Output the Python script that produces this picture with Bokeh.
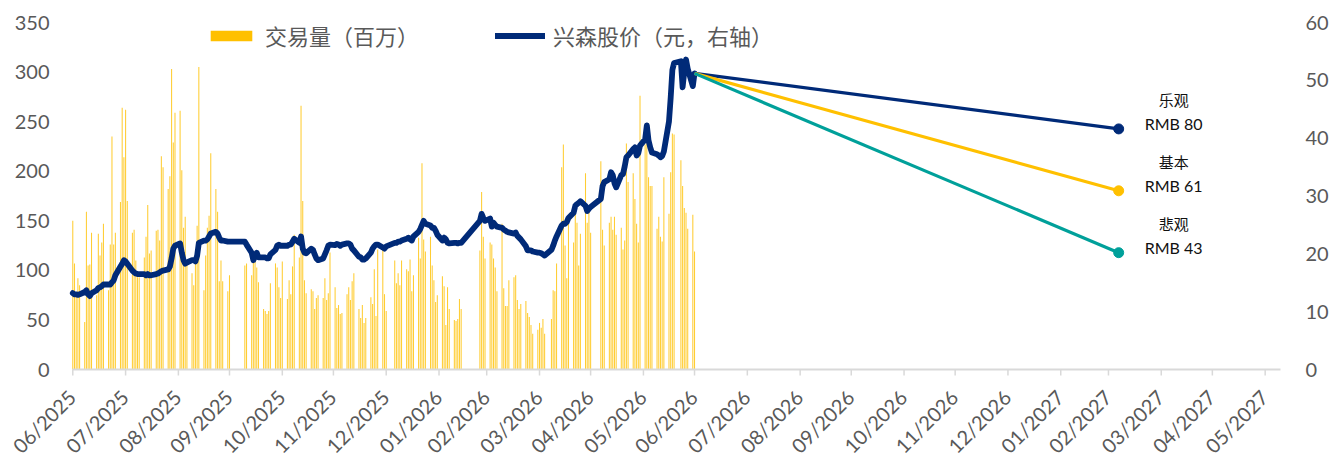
import math
import pandas as pd
from bokeh.plotting import figure
from bokeh.models import ColumnDataSource, Range1d, Legend, LegendItem
from bokeh.core.properties import value
from bokeh.embed import file_html
from bokeh.resources import INLINE

# ---- trading calendar: 2025-06-30 .. 2026-06-30, exchange holidays removed ----
first_day = "2025-06-30"
last_day = "2026-06-30"
market_holidays = [
    "2025-10-01", "2025-10-02", "2025-10-03", "2025-10-06", "2025-10-07", "2025-10-08",
    "2026-01-01", "2026-01-02",
    "2026-02-16", "2026-02-17", "2026-02-18", "2026-02-19", "2026-02-20", "2026-02-23",
    "2026-04-06",
    "2026-05-01", "2026-05-04", "2026-05-05",
    "2026-06-19",
]

# ---- daily turnover, million shares (left axis) ----
vol_2025_06 = [150]
vol_2025_07 = [107, 77, 92, 85, 48, 159, 105, 106, 138, 75, 137, 115, 128, 147, 80,
               126, 235, 126, 138, 169, 264, 214, 262]
vol_2025_08 = [170, 138, 141, 110, 93, 93, 113, 134, 166, 117, 120, 140, 141, 130, 215,
               204, 182, 195, 303, 229, 259]
vol_2025_09 = [261, 201, 143, 154, 107, 97, 85, 113, 145, 305, 80, 115, 143, 155, 218,
               182, 159, 89, 110, 89, 79, 95]
vol_2025_10 = [105, 107, 95, 110, 110, 103, 88, 61, 59, 56, 59, 87, 107, 103, 83, 72, 109]
vol_2025_11 = [71, 90, 76, 104, 136, 113, 266, 170, 90, 77, 81, 79, 61, 72, 75, 72, 92,
               70, 77, 118]
vol_2025_12 = [83, 62, 65, 56, 57, 76, 83, 70, 89, 97, 61, 52, 65, 47, 52, 73, 66, 101,
               54, 121, 123, 76, 59]
vol_2026_01 = [110, 87, 97, 85, 110, 101, 99, 111, 79, 95, 133, 112, 208, 131, 119, 134,
               105, 90, 68, 75]
vol_2026_02 = [94, 84, 45, 83, 61, 50, 49, 51, 71, 61, 120, 179, 134, 112]
vol_2026_03 = [128, 126, 112, 103, 79, 147, 82, 64, 64, 90, 93, 95, 70, 61, 66, 69, 57,
               53, 45, 36, 40, 47]
vol_2026_04 = [42, 51, 36, 51, 80, 79, 107, 204, 227, 125, 92, 155, 128, 158, 148, 105,
               137, 198, 148, 160, 138]
vol_2026_05 = [210, 141, 125, 148, 154, 141, 154, 136, 143, 121, 130, 228, 189, 198, 172,
               147, 128, 276]
vol_2026_06 = [227, 240, 194, 185, 185, 142, 154, 134, 129, 194, 157, 199, 238, 237, 211,
               185, 163, 158, 142, 156, 119]

# ---- closing price, CNY (right axis) ----
px_2025_06 = [13.2]
px_2025_07 = [13.0, 13.0, 12.9, 13.0, 13.4, 13.7, 13.0, 12.7, 13.2, 13.7, 14.1, 14.2,
              14.4, 14.7, 14.7, 14.7, 15.1, 15.4, 16.3, 17.8, 18.3, 18.9, 18.7]
px_2025_08 = [18.3, 17.1, 16.8, 16.6, 16.5, 16.5, 16.5, 16.3, 16.5, 16.3, 16.3, 16.5,
              16.6, 16.8, 17.0, 17.1, 17.3, 17.8, 19.2, 20.9, 21.4]
px_2025_09 = [21.8, 20.2, 18.9, 18.3, 18.5, 18.9, 18.9, 18.7, 19.7, 21.9, 22.3, 22.3,
              22.5, 23.0, 23.5, 23.8, 23.5, 22.8, 22.3, 22.3, 22.1, 22.1]
px_2025_10 = [22.1, 21.6, 20.2, 18.9, 19.7, 20.2, 19.4, 19.4, 19.4, 19.2, 19.2, 19.9,
              20.7, 21.4, 21.6, 21.4, 21.4]
px_2025_11 = [21.4, 21.6, 21.6, 22.1, 22.6, 21.9, 23.0, 20.9, 20.2, 20.1, 20.9, 20.7,
              19.9, 19.2, 18.9, 19.2, 19.9, 20.6, 21.4, 21.6]
px_2025_12 = [21.5, 21.7, 21.6, 21.4, 21.6, 21.8, 21.8, 21.6, 20.9, 20.6, 19.5, 19.4,
              19.0, 19.0, 19.2, 20.2, 20.9, 21.3, 21.6, 21.6, 21.1, 20.9, 21.3]
px_2026_01 = [21.9, 21.9, 22.1, 22.1, 22.3, 22.6, 22.8, 22.5, 22.3, 23.0, 23.8, 24.3,
              25.0, 25.7, 25.2, 24.9, 24.5, 24.5, 24.0, 23.3]
px_2026_02 = [22.3, 22.8, 22.5, 21.9, 21.8, 21.9, 21.9, 21.8, 21.9, 21.9, 25.7, 26.9,
              26.2, 25.7]
px_2026_03 = [26.1, 24.7, 25.4, 25.0, 24.7, 24.5, 24.2, 24.0, 23.8, 23.7, 23.5, 23.7,
              23.1, 22.8, 22.5, 21.3, 20.6, 20.6, 20.6, 20.4, 20.2, 20.2]
px_2026_04 = [20.1, 19.9, 19.7, 20.7, 21.4, 22.3, 23.0, 24.9, 25.2, 25.2, 25.5, 26.2,
              27.1, 28.3, 28.6, 28.8, 29.1, 28.3, 27.4, 27.8, 28.1]
px_2026_05 = [29.5, 31.7, 32.4, 32.9, 34.1, 33.6, 32.2, 31.5, 33.6, 33.8, 35.1, 36.7,
              37.0, 38.1, 38.4, 37.0, 37.4, 38.7]
px_2026_06 = [39.8, 42.2, 39.6, 38.4, 37.5, 37.2, 37.0, 36.7, 36.9, 37.7, 42.9, 47.0,
              51.8, 53.0, 53.3, 48.8, 51.5, 53.6, 52.0, 49.0, 51.2]

# ---- scenario targets ----
scenario_names = ["乐观", "基本", "悲观"]
scenario_targets = ["RMB 80", "RMB 61", "RMB 43"]
scenario_levels = [41.6, 30.9, 20.2]
scenario_date = "2027-03-06"
scenario_colors = ["#002A78", "#FFC000", "#00A09A"]

# ---- axis ticks ----
volume_max = 350
price_max = 60
volume_ticks = [0, 50, 100, 150, 200, 250, 300, 350]
price_ticks = [0, 10, 20, 30, 40, 50, 60]
month_ticks = pd.date_range("2025-06-30", "2027-05-31", freq="ME")
month_labels = [d.strftime("%m/%Y") for d in month_ticks]
axis_start = "2025-06-30"
axis_end = "2027-06-09"

NAVY = "#002A78"
GOLD = "#FFC000"
TICK_GREY = "#595959"
AXIS_GREY = "#D9D9D9"

volume = (vol_2025_06 + vol_2025_07 + vol_2025_08 + vol_2025_09 + vol_2025_10 +
          vol_2025_11 + vol_2025_12 + vol_2026_01 + vol_2026_02 + vol_2026_03 +
          vol_2026_04 + vol_2026_05 + vol_2026_06)
price = (px_2025_06 + px_2025_07 + px_2025_08 + px_2025_09 + px_2025_10 +
         px_2025_11 + px_2025_12 + px_2026_01 + px_2026_02 + px_2026_03 +
         px_2026_04 + px_2026_05 + px_2026_06)

days = pd.bdate_range(first_day, last_day)
days = days[~days.isin(pd.to_datetime(market_holidays))]
assert len(days) == len(volume) == len(price)

src = ColumnDataSource(dict(date=days, volume=volume, price=price))

# ---- geometry: the drawing area covers the whole canvas; both value axes and
# the date axis are drawn inside it so that slanted labels are never clipped ----
W, H = 1330, 459
TOP, LEFT, RIGHT, BOTTOM = 22, 72, 50, 90     # margins around the 0..max box
box_w = W - LEFT - RIGHT
box_h = H - TOP - BOTTOM

DAY_MS = 86400000
x0 = pd.Timestamp(axis_start) - pd.Timedelta(hours=4)
x1 = pd.Timestamp(axis_end)
ms_per_px = (x1 - x0) / pd.Timedelta(milliseconds=1) / box_w
x_lo = x0 - pd.Timedelta(milliseconds=LEFT * ms_per_px)
x_hi = x1 + pd.Timedelta(milliseconds=RIGHT * ms_per_px)

vol_per_px = volume_max / box_h
pr_per_px = price_max / box_h
vol_lo, vol_hi = -BOTTOM * vol_per_px, volume_max + TOP * vol_per_px
pr_lo, pr_hi = -BOTTOM * pr_per_px, price_max + TOP * pr_per_px

p = figure(width=W, height=H, x_axis_type="datetime",
           x_range=Range1d(x_lo, x_hi), y_range=Range1d(vol_lo, vol_hi),
           output_backend="svg", toolbar_location=None,
           min_border_left=0, min_border_right=0,
           min_border_top=0, min_border_bottom=0)
p.outline_line_color = None
p.background_fill_color = "white"
p.border_fill_color = "white"
p.xgrid.visible = False
p.ygrid.visible = False
p.xaxis.visible = False
p.yaxis.visible = False

p.extra_y_ranges = {"price": Range1d(pr_lo, pr_hi)}

# thin daily bars, slightly translucent like hairline columns
bars = p.vbar(x="date", top="volume", bottom=0, width=0.62 * DAY_MS, source=src,
              fill_color=GOLD, fill_alpha=0.8, line_color=None)
# zero-height bar in full colour, used only as the legend swatch
bar_key = p.vbar(x=[days[0]], top=[0], bottom=0, width=DAY_MS,
                 fill_color=GOLD, line_color=None)

# date axis: base line, month-end ticks and slanted labels
tick_len = 6 * vol_per_px
p.segment(x0=[x0], y0=[0], x1=[x1], y1=[0], line_color=AXIS_GREY, line_width=1.8)
p.segment(x0=month_ticks, y0=[0] * len(month_ticks), x1=month_ticks,
          y1=[-tick_len] * len(month_ticks), line_color=AXIS_GREY, line_width=1.5)
tick_src = ColumnDataSource(dict(x=month_ticks, y=[0] * len(month_ticks),
                                 text=month_labels))
p.text(x="x", y="y", text="text", source=tick_src, angle=math.pi / 4,
       x_offset=-1, y_offset=24, text_align="right", text_baseline="middle",
       text_font=value("Lato"), text_font_size="20px", text_color=TICK_GREY)

# value axes: labels only, left for turnover, right for price
p.text(x=[x_lo] * len(volume_ticks), y=volume_ticks,
       text=[str(v) for v in volume_ticks], x_offset=LEFT - 23,
       text_align="right", text_baseline="middle",
       text_font=value("Lato"), text_font_size="20px", text_color=TICK_GREY)
p.text(x=[x_hi] * len(price_ticks), y=price_ticks, y_range_name="price",
       text=[str(v) for v in price_ticks], x_offset=-(RIGHT - 25),
       text_align="left", text_baseline="middle",
       text_font=value("Lato"), text_font_size="20px", text_color=TICK_GREY)

line = p.line(x="date", y="price", source=src, y_range_name="price",
              line_color=NAVY, line_width=5.8, line_join="round", line_cap="round")

# scenario paths from the last close to each target
last_date = days[-1]
last_price = price[-1]
end_date = pd.Timestamp(scenario_date)
for lvl, col in zip(scenario_levels, scenario_colors):
    p.line(x=[last_date, end_date], y=[last_price, lvl], y_range_name="price",
           line_color=col, line_width=3.2)
    p.scatter(x=[end_date], y=[lvl], y_range_name="price", size=10,
              fill_color=col, line_color=col)

lab_src = ColumnDataSource(dict(x=[end_date] * 3, y=scenario_levels,
                                name=scenario_names, target=scenario_targets))
p.text(x="x", y="y", text="name", source=lab_src, y_range_name="price",
       x_offset=55, y_offset=-29, text_align="center", text_baseline="middle",
       text_font=value("Noto Sans CJK SC"), text_font_size="15px",
       text_color="#111111")
p.text(x="x", y="y", text="target", source=lab_src, y_range_name="price",
       x_offset=55, y_offset=-5, text_align="center", text_baseline="middle",
       text_font=value("Lato"), text_font_size="16px", text_color="#111111")

# legends, one per series so each sits where it should
def make_legend(label, renderer, loc, glyph_w):
    lg = Legend(items=[LegendItem(label=label, renderers=[renderer])],
                location=loc, orientation="horizontal",
                glyph_width=glyph_w, glyph_height=13, label_standoff=8,
                label_height=30, padding=0, margin=0, spacing=0,
                border_line_color=None, background_fill_alpha=0,
                label_text_font="Noto Sans CJK SC", label_text_font_size="22px",
                label_text_color="#595959")
    return lg

legend_y = H - 51
p.add_layout(make_legend("交易量（百万）", bar_key, (205, legend_y), 52), "center")
p.add_layout(make_legend("兴森股价（元，右轴）", line, (495, legend_y), 50), "center")

open("out.html", "w").write(file_html(p, INLINE))
